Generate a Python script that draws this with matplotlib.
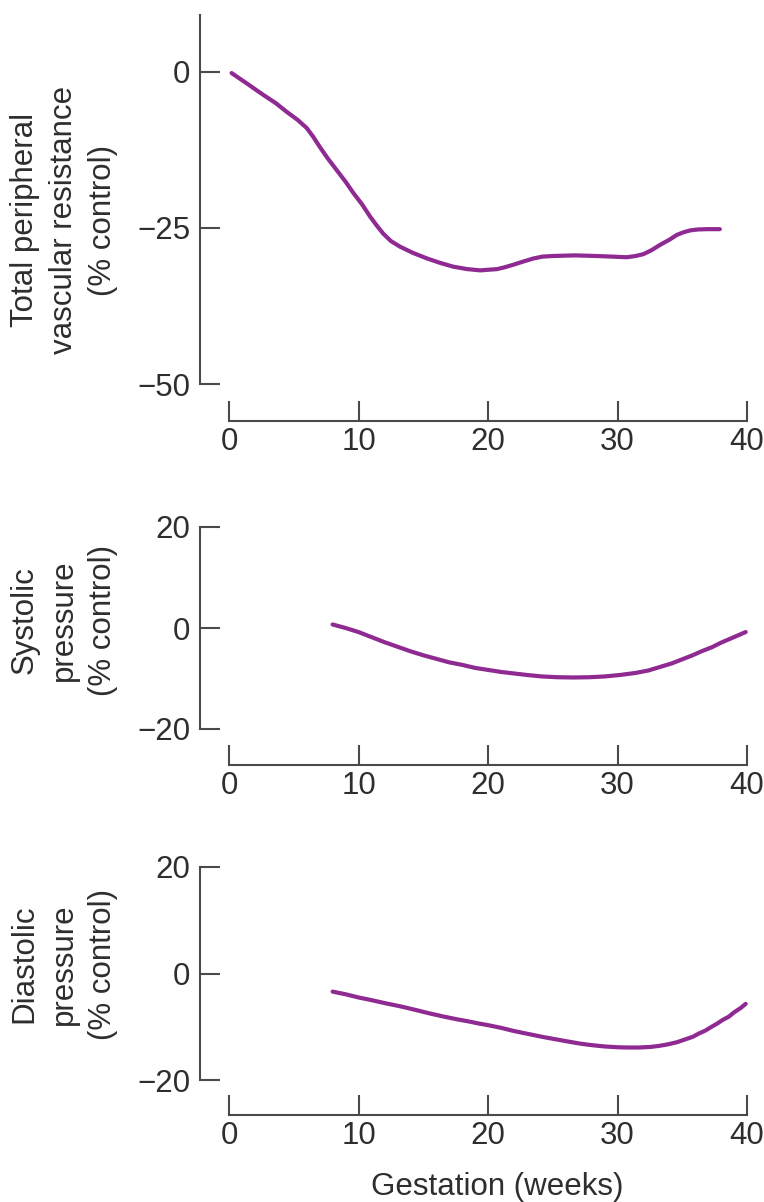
import numpy as np
import matplotlib.pyplot as plt

plt.rcParams['font.family'] = ['Liberation Sans', 'DejaVu Sans']

# gestation weeks / values (% control)
tpr_weeks = [0.2, 1.4, 2.65, 3.6, 4.45, 5.3, 6.0, 6.5, 7.0, 7.6, 8.3, 9.0, 9.6, 10.3, 10.9, 11.4,
             11.9, 12.5, 13.2, 14.2, 15.3, 16.3, 17.3, 18.4, 19.4, 20.7, 21.3, 21.95, 22.7, 23.5,
             24.2, 25.0, 26.7, 28.4, 29.6, 30.7, 31.4, 32.0, 32.6, 33.3, 34.0, 34.6, 35.1, 35.6,
             36.2, 36.9, 37.9]
tpr_vals = [-0.2, -1.9, -3.7, -5.0, -6.4, -7.7, -9.0, -10.4, -12.0, -13.8, -15.7, -17.6, -19.4,
            -21.3, -23.2, -24.6, -25.9, -27.1, -28.0, -29.0, -29.9, -30.6, -31.2, -31.6, -31.8,
            -31.6, -31.3, -30.9, -30.4, -29.9, -29.6, -29.5, -29.4, -29.5, -29.6, -29.7, -29.5,
            -29.2, -28.6, -27.7, -26.9, -26.1, -25.7, -25.4, -25.25, -25.2, -25.2]

sys_weeks = [8.0, 9.0, 10.0, 11.0, 12.0, 13.0, 14.0, 15.0, 16.0, 17.0, 18.0, 19.0, 20.0, 21.0,
             22.0, 23.0, 24.2, 25.4, 26.6, 27.8, 29.0, 30.2, 31.4, 32.4, 33.3, 34.2, 35.0, 35.8,
             36.5, 37.3, 38.0, 39.0, 39.9]
sys_vals = [0.7, 0.0, -0.8, -1.8, -2.8, -3.7, -4.6, -5.4, -6.1, -6.8, -7.3, -7.9, -8.3, -8.7,
            -9.0, -9.3, -9.6, -9.75, -9.8, -9.75, -9.6, -9.3, -8.9, -8.4, -7.7, -7.0, -6.2, -5.4,
            -4.6, -3.8, -2.9, -1.8, -0.8]

dia_weeks = [8.0, 9.0, 10.0, 11.0, 12.1, 13.3, 14.5, 15.5, 16.6, 17.6, 18.5, 19.3, 20.0, 21.0,
             22.0, 23.1, 24.2, 25.1, 26.0, 27.2, 28.0, 29.0, 30.0, 30.8, 31.6, 32.5, 33.2, 33.9,
             34.6, 35.2, 35.8, 36.3, 36.8, 37.2, 37.7, 38.1, 38.6, 39.0, 39.5, 39.9]
dia_vals = [-3.4, -3.9, -4.5, -5.0, -5.6, -6.2, -6.9, -7.5, -8.1, -8.6, -9.0, -9.4, -9.7, -10.2,
            -10.8, -11.35, -11.9, -12.3, -12.7, -13.2, -13.45, -13.7, -13.85, -13.9, -13.9, -13.8,
            -13.6, -13.3, -12.9, -12.4, -11.9, -11.25, -10.7, -10.1, -9.4, -8.75, -8.1, -7.3,
            -6.5, -5.7]

x_ticks = [0, 10, 20, 30, 40]

W, H = 764, 1202
fig = plt.figure(figsize=(W / 100, H / 100), dpi=100)

line_col = '#8e2a91'
axis_col = '#4a4a4a'
text_col = '#2e2e2e'
fs = 22.5


def make_ax(top, bottom, ylim, yticks, spine_gap):
    # pixel box -> figure fraction; x=-2.24 at spine (200px), x=40 at 747px
    left, right = 200, 747
    ax = fig.add_axes([left / W, 1 - bottom / H, (right - left) / W, (bottom - top) / H])
    ax.set_xlim(-2.24, 40)
    ax.set_ylim(*ylim)
    for s in ['top', 'right']:
        ax.spines[s].set_visible(False)
    ax.spines['left'].set_color(axis_col)
    ax.spines['bottom'].set_color(axis_col)
    ax.spines['left'].set_linewidth(1.5)
    ax.spines['bottom'].set_linewidth(1.5)
    ax.spines['bottom'].set_position(('outward', spine_gap * 0.72))
    ax.spines['bottom'].set_bounds(0, 40)
    ax.set_xticks(x_ticks)
    ax.set_yticks(yticks)
    ax.tick_params(direction='in', length=14.5, width=1.5, color=axis_col,
                   labelsize=fs, labelcolor=text_col)
    ax.tick_params(axis='y', pad=7)
    ax.tick_params(axis='x', pad=4)
    ax.set_facecolor('none')
    return ax


ax1 = make_ax(15, 384, (-50, 9.1), [0, -25, -50], 37)
ax1.plot(tpr_weeks, tpr_vals, color=line_col, lw=3, solid_capstyle='round',
         solid_joinstyle='round', clip_on=False)

ax2 = make_ax(527, 729, (-20, 20), [20, 0, -20], 36)
ax2.plot(sys_weeks, sys_vals, color=line_col, lw=3, solid_capstyle='round',
         solid_joinstyle='round', clip_on=False)

ax3 = make_ax(867, 1080, (-20, 20), [20, 0, -20], 35)
ax3.plot(dia_weeks, dia_vals, color=line_col, lw=3, solid_capstyle='round',
         solid_joinstyle='round', clip_on=False)

labels = [("Total peripheral\nvascular resistance\n(% control)", 220),
          ("Systolic\npressure\n(% control)", 620),
          ("Diastolic\npressure\n(% control)", 964)]
for txt, yc in labels:
    fig.text(64 / W, 1 - yc / H, txt, rotation=90, ha='center', va='center',
             multialignment='center', fontsize=fs, color=text_col, linespacing=1.4)

fig.text(497 / W, 1 - 1187 / H, "Gestation (weeks)", ha='center', va='center',
         fontsize=fs, color=text_col)

fig.savefig('out.png', dpi=100)
